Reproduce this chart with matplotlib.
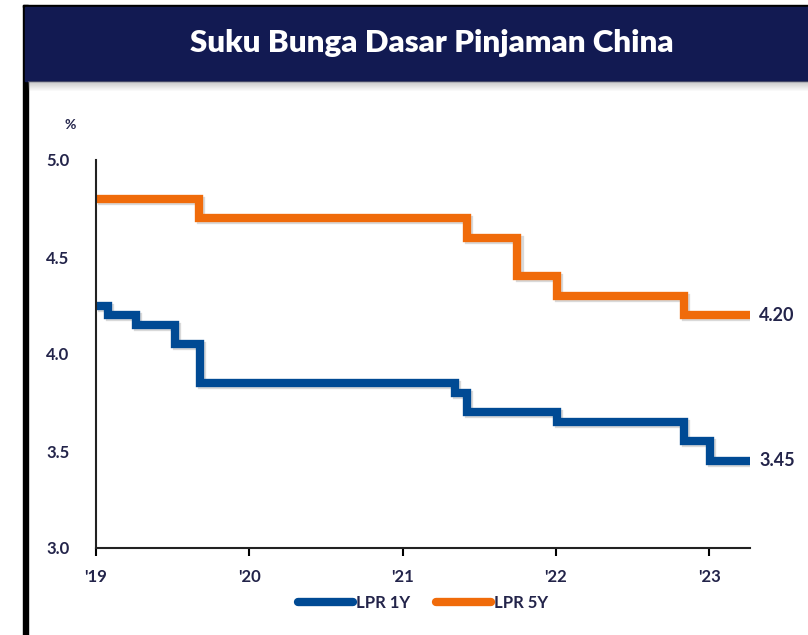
import matplotlib
matplotlib.use("Agg")
import matplotlib.pyplot as plt
from matplotlib.patches import Rectangle
import matplotlib.patheffects as pe

# data (fractional year of each change, rate after the change)
lpr1y_dates = [2019.0, 2019.078, 2019.26, 2019.514, 2019.676, 2021.341,
               2021.42, 2022.005, 2022.837, 2023.006, 2023.267]
lpr1y_rates = [4.25, 4.20, 4.15, 4.05, 3.85, 3.80, 3.70, 3.65, 3.55, 3.45, 3.45]

lpr5y_dates = [2019.0, 2019.669, 2021.42, 2021.75, 2022.005, 2022.837, 2023.267]
lpr5y_rates = [4.80, 4.70, 4.60, 4.40, 4.30, 4.20, 4.20]

year_ticks = [2019, 2020, 2021, 2022, 2023]
year_labels = ["'19", "'20", "'21", "'22", "'23"]

title = "Suku Bunga Dasar Pinjaman China"
blue = "#004a94"
orange = "#f06b0a"
navy = "#121a52"
txt = "#23244a"

W, H = 808, 635
fig = plt.figure(figsize=(W / 100, H / 100), dpi=100)
plt.rcParams['font.family'] = ['Lato', 'DejaVu Sans']

def fx(px):
    return px / W

def fy(py):
    return 1 - py / H

# frame and banner
fig.patches.append(Rectangle((fx(23), 0), fx(5), fy(5), transform=fig.transFigure,
                             color="black", zorder=0))
fig.patches.append(Rectangle((fx(23), fy(7)), 1, 2 / H, transform=fig.transFigure,
                             color="black", zorder=0))
fig.patches.append(Rectangle((fx(25), fy(81)), 1, (81 - 7) / H, transform=fig.transFigure,
                             color=navy, zorder=1))
for i in range(10):
    fig.patches.append(Rectangle((fx(28), fy(82 + i)), 1, 1 / H, transform=fig.transFigure,
                                 color="gray", alpha=0.45 * (1 - i / 10), lw=0, zorder=1))
fig.text(fx(432), fy(43), title, color="white", fontsize=22.5, fontweight="heavy",
         ha="center", va="center")

ax = fig.add_axes([fx(96), fy(548), fx(750) - fx(96), (548 - 160) / H])
shadow = [pe.SimpleLineShadow(offset=(1.5, -1.5), alpha=0.15, shadow_color="black"), pe.Normal()]
ax.step(lpr1y_dates, lpr1y_rates, where="post", color=blue, lw=6, label="LPR 1Y",
        path_effects=shadow, solid_capstyle="butt", solid_joinstyle="miter")
ax.step(lpr5y_dates, lpr5y_rates, where="post", color=orange, lw=6, label="LPR 5Y",
        path_effects=shadow, solid_capstyle="butt", solid_joinstyle="miter")

ax.set_xlim(2019, 2023.267)
ax.set_ylim(3.0, 5.0)
ax.set_yticks([3.0, 3.5, 4.0, 4.5, 5.0])
ax.set_yticklabels(["3.0", "3.5", "4.0", "4.5", "5.0"])
ax.set_xticks(year_ticks)
ax.set_xticklabels(year_labels)
for s in ["top", "right"]:
    ax.spines[s].set_visible(False)
for s in ["left", "bottom"]:
    ax.spines[s].set_linewidth(1.5)
    ax.spines[s].set_color("#222222")
ax.tick_params(axis="y", length=0, pad=19, labelsize=12, labelcolor=txt)
ax.tick_params(axis="x", length=6, width=1.5, direction="out", pad=9,
               labelsize=12, labelcolor=txt)
for lab in ax.get_xticklabels() + ax.get_yticklabels():
    lab.set_fontweight("bold")

ax.text(lpr5y_dates[-1] + 0.06, lpr5y_rates[-1], f"{lpr5y_rates[-1]:.2f}", va="center",
        ha="left", fontsize=13, fontweight="bold", color=txt, clip_on=False)
ax.text(lpr1y_dates[-1] + 0.06, lpr1y_rates[-1], f"{lpr1y_rates[-1]:.2f}", va="center",
        ha="left", fontsize=13, fontweight="bold", color=txt, clip_on=False)
fig.text(fx(70), fy(125), "%", fontsize=10, fontweight="bold", color=txt,
         ha="center", va="center")

leg = fig.legend(loc="center", bbox_to_anchor=(fx(423), fy(603)), ncol=2, frameon=False,
                 handlelength=3.3, handletextpad=0.15, columnspacing=1.6,
                 prop={"weight": "bold", "size": 12})
for t in leg.get_texts():
    t.set_color(txt)
for h in leg.legend_handles:
    h.set_path_effects([])
    h.set_solid_capstyle("round")

fig.savefig("out.png", dpi=100)
